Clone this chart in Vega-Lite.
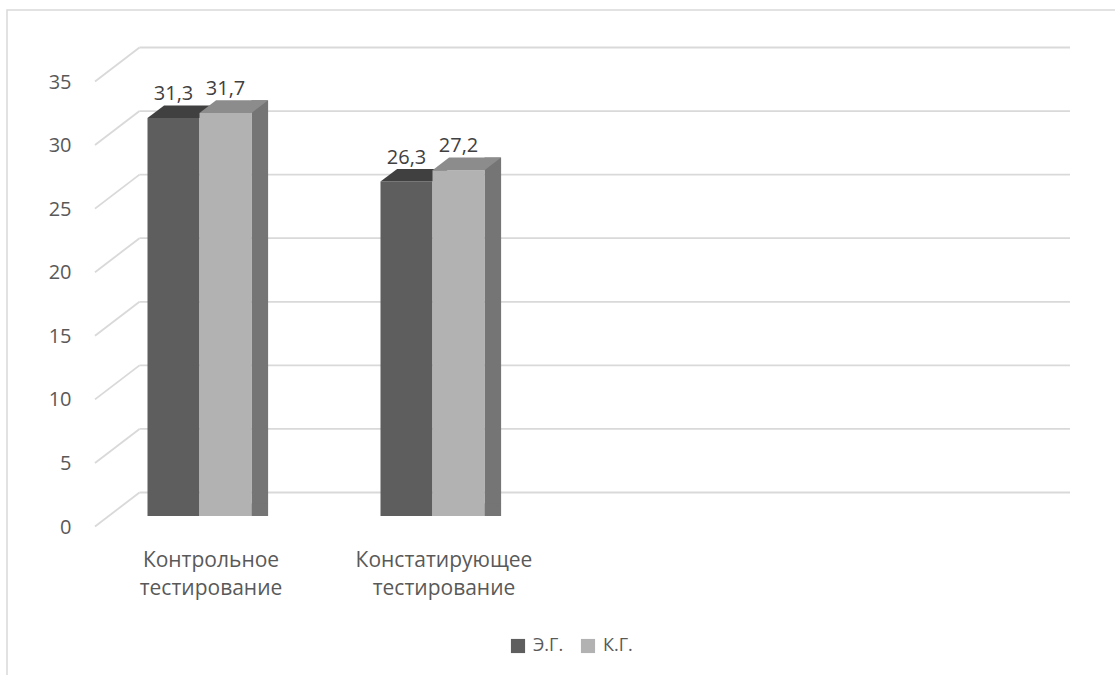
{
  "$schema": "https://vega.github.io/schema/vega-lite/v6.json",
  "width": 1110,
  "height": 666,
  "autosize": {"type": "none"},
  "padding": {"left": 7, "top": 10, "right": 0, "bottom": 0},
  "background": "white",
  "config": {
    "view": {"stroke": "#d9d9d9", "strokeWidth": 1.5},
    "font": "Open Sans",
    "locale": {"number": {"decimal": ",", "thousands": " ", "grouping": [3], "currency": ["", ""]}}
  },
  "resolve": {"axis": {"x": "independent", "y": "independent"}},
  "datasets": {
    "bars": [
      {"category": "Контрольное тестирование", "group": "Э.Г.", "value": 31.3},
      {"category": "Контрольное тестирование", "group": "К.Г.", "value": 31.7},
      {"category": "Констатирующее тестирование", "group": "Э.Г.", "value": 26.3},
      {"category": "Констатирующее тестирование", "group": "К.Г.", "value": 27.2}
    ],
    "ticks": [{"v": 0}, {"v": 5}, {"v": 10}, {"v": 15}, {"v": 20}, {"v": 25}, {"v": 30}, {"v": 35}]
  },
  "layer": [
    {
      "data": {"name": "ticks"},
      "mark": {"type": "rule", "color": "#d9d9d9", "strokeWidth": 1.8, "xOffset": 56.5, "x2Offset": 55, "yOffset": -23.5},
      "encoding": {
        "x": {
          "datum": "Контрольное тестирование", "type": "nominal", "bandPosition": 0,
          "scale": {"domain": ["Контрольное тестирование", "Констатирующее тестирование", "c3", "c4"], "range": [76, 1008], "paddingInner": 0, "paddingOuter": 0},
          "axis": null
        },
        "x2": {"datum": "c4", "bandPosition": 1},
        "y": {
          "field": "v", "type": "quantitative",
          "scale": {"domain": [0, 35], "range": [506, 61], "nice": false, "zero": true},
          "axis": null
        }
      }
    },
    {
      "data": {"name": "ticks"},
      "mark": {"type": "rule", "color": "#d9d9d9", "strokeWidth": 1.8, "xOffset": 12, "x2Offset": 56.5, "yOffset": 10.5, "y2Offset": -23.5},
      "encoding": {
        "x": {"datum": "Контрольное тестирование", "type": "nominal", "bandPosition": 0, "axis": null},
        "x2": {"datum": "Контрольное тестирование", "bandPosition": 0},
        "y": {"field": "v", "type": "quantitative", "axis": null},
        "y2": {"field": "v"}
      }
    },
    {
      "data": {"name": "bars"},
      "transform": [{"filter": "datum.group == 'Э.Г.'"}],
      "mark": {"type": "bar", "width": 52, "xOffset": -26},
      "encoding": {
        "x": {
          "field": "category", "type": "nominal",
          "axis": {
            "title": null, "orient": "bottom", "offset": -160, "ticks": false, "domain": false, "grid": false,
            "labelPadding": 33, "labelOffset": 11.5, "labelAngle": 0, "labelBaseline": "top",
            "labelFontSize": 21, "labelLineHeight": 28, "labelColor": "#595959", "labelFont": "Open Sans",
            "labelOverlap": false, "labelBound": false, "labelFlush": false, "labelLimit": 400,
            "labelExpr": "datum.value == 'c3' || datum.value == 'c4' ? '' : split(datum.value, ' ')"
          }
        },
        "y": {
          "field": "value", "type": "quantitative", "stack": null,
          "axis": {
            "title": null, "orient": "left", "offset": -76, "ticks": false, "domain": false, "grid": false,
            "values": [0, 5, 10, 15, 20, 25, 30, 35], "labelPadding": 12, "labelOffset": 11,
            "labelFontSize": 20, "labelColor": "#595959", "labelFont": "Open Sans", "labelBaseline": "middle"
          }
        },
        "color": {
          "field": "group", "type": "nominal",
          "scale": {"domain": ["Э.Г.", "К.Г."], "range": ["#5e5e5e", "#b2b2b2"]},
          "legend": {
            "title": null, "orient": "none", "legendX": 502, "legendY": 627, "direction": "horizontal",
            "symbolType": "square", "symbolSize": 200, "symbolStrokeWidth": 0, "symbolOpacity": 1,
            "labelFontSize": 18, "labelColor": "#595959", "labelFont": "Open Sans",
            "labelOffset": 6, "columnPadding": 15, "padding": 0
          }
        }
      }
    },
    {
      "data": {"name": "bars"},
      "transform": [{"filter": "datum.group == 'Э.Г.'"}],
      "mark": {"type": "point", "shape": "M-52,0L0,0L16.6,-12.6L-35.4,-12.6Z", "size": 4, "filled": true, "opacity": 1, "color": "#404040", "strokeWidth": 0},
      "encoding": {
        "x": {"field": "category", "type": "nominal", "axis": null},
        "y": {"field": "value", "type": "quantitative", "axis": null}
      }
    },
    {
      "data": {"name": "bars"},
      "transform": [{"filter": "datum.group == 'К.Г.'"}],
      "mark": {"type": "bar", "width": 16.6, "xOffset": 60.3, "yOffset": -12.6, "y2Offset": -12.6, "color": "#757575"},
      "encoding": {
        "x": {"field": "category", "type": "nominal", "axis": null},
        "y": {"field": "value", "type": "quantitative", "stack": null, "axis": null}
      }
    },
    {
      "data": {"name": "bars"},
      "transform": [{"filter": "datum.group == 'К.Г.'"}],
      "mark": {"type": "point", "shape": "M52,-12.6L68.6,-12.6L52,0Z", "size": 4, "filled": true, "opacity": 1, "color": "#757575", "strokeWidth": 0},
      "encoding": {
        "x": {"field": "category", "type": "nominal", "axis": null},
        "y": {"datum": 0, "type": "quantitative", "axis": null}
      }
    },
    {
      "data": {"name": "bars"},
      "transform": [{"filter": "datum.group == 'К.Г.'"}],
      "mark": {"type": "bar", "width": 52, "xOffset": 26},
      "encoding": {
        "x": {"field": "category", "type": "nominal", "axis": null},
        "y": {"field": "value", "type": "quantitative", "stack": null, "axis": null},
        "color": {"field": "group", "type": "nominal", "legend": null}
      }
    },
    {
      "data": {"name": "bars"},
      "transform": [{"filter": "datum.group == 'К.Г.'"}],
      "mark": {"type": "point", "shape": "M0,0L52,0L68.6,-12.6L16.6,-12.6Z", "size": 4, "filled": true, "opacity": 1, "color": "#8c8c8c", "strokeWidth": 0},
      "encoding": {
        "x": {"field": "category", "type": "nominal", "axis": null},
        "y": {"field": "value", "type": "quantitative", "axis": null}
      }
    },
    {
      "data": {"name": "bars"},
      "transform": [{"filter": "datum.group == 'Э.Г.'"}],
      "mark": {"type": "text", "xOffset": -26, "dy": -18, "baseline": "alphabetic", "fontSize": 20, "color": "#404040", "font": "Open Sans"},
      "encoding": {
        "x": {"field": "category", "type": "nominal", "axis": null},
        "y": {"field": "value", "type": "quantitative", "axis": null},
        "text": {"field": "value", "type": "quantitative", "format": ".1f"}
      }
    },
    {
      "data": {"name": "bars"},
      "transform": [{"filter": "datum.group == 'К.Г.'"}],
      "mark": {"type": "text", "xOffset": 26, "dy": -18, "baseline": "alphabetic", "fontSize": 20, "color": "#404040", "font": "Open Sans"},
      "encoding": {
        "x": {"field": "category", "type": "nominal", "axis": null},
        "y": {"field": "value", "type": "quantitative", "axis": null},
        "text": {"field": "value", "type": "quantitative", "format": ".1f"}
      }
    }
  ]
}
